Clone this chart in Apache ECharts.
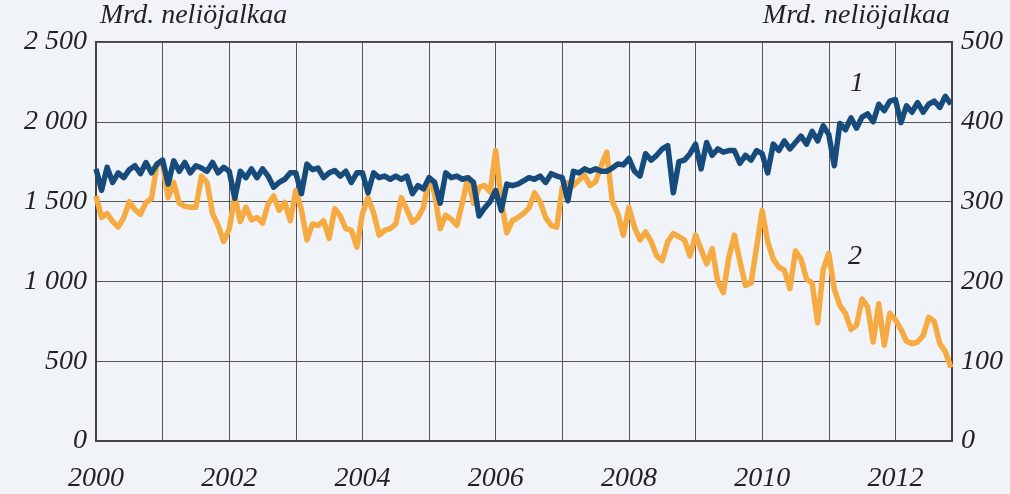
<html lang="fi">
<head>
    <meta charset="UTF-8">
    <title>Mrd. neliöjalkaa</title>
    <script src="https://cdn.jsdelivr.net/npm/echarts@6/dist/echarts.min.js"></script>
    <style>
        html, body { margin: 0; padding: 0; background: #f0f4f9; }
        #main { width: 1010px; height: 494px; }
    </style>
</head>
<body>
<div id="main"></div>
<script>
    // kuukausittaiset arvot, tammikuu 2000 - marraskuu 2012
    var startYear = 2000;
    var tickYears = [2000, 2002, 2004, 2006, 2008, 2010, 2012];

    // 1: vasen asteikko
    var series1 = [
        1705, 1570, 1715, 1620, 1680, 1650, 1700, 1725, 1675, 1745, 1680, 1735,
        1760, 1610, 1755, 1690, 1745, 1680, 1725, 1710, 1690, 1745, 1680, 1715,
        1690, 1520, 1690, 1650, 1705, 1650, 1705, 1660, 1590, 1620, 1640, 1680,
        1680, 1550, 1735, 1700, 1710, 1650, 1680, 1695, 1660, 1690, 1620, 1680,
        1680, 1555, 1680, 1650, 1660, 1640, 1660, 1640, 1660, 1550, 1600, 1580,
        1650, 1620, 1490, 1680, 1650, 1660, 1640, 1650, 1620, 1410, 1460, 1500,
        1570, 1445, 1610, 1600, 1610, 1630, 1650, 1640, 1660, 1620, 1675, 1660,
        1650, 1505, 1690, 1680, 1705, 1690, 1705, 1690, 1690, 1710, 1735, 1730,
        1770, 1690, 1660, 1800, 1760, 1790, 1830, 1850, 1555, 1750, 1760, 1800,
        1860, 1705, 1870, 1790, 1830, 1810, 1820, 1820, 1740, 1790, 1760, 1820,
        1800, 1680, 1860, 1820, 1880, 1830, 1870, 1910, 1860, 1940, 1880, 1975,
        1920, 1725, 1990, 1950, 2025, 1960, 2030, 2050, 2000, 2110, 2070, 2130,
        2140, 1995, 2100, 2060, 2120, 2060, 2110, 2130, 2090, 2160, 2110
    ];

    // 2: oikea asteikko
    var series2 = [
        307, 280, 285, 275, 268, 280, 300, 290, 284, 299, 304, 347,
        347, 305, 324, 298, 294, 293, 293, 332, 324, 285, 270, 250,
        266, 307, 275, 293, 277, 280, 273, 297, 307, 289, 299, 276,
        314, 290, 252, 272, 270, 276, 254, 291, 282, 266, 264, 243,
        285, 305, 286, 258, 264, 266, 272, 305, 290, 274, 280, 293,
        330, 310, 266, 283, 278, 270, 299, 330, 298, 318, 320, 312,
        364, 300, 261, 276, 280, 285, 292, 311, 300, 280, 270, 268,
        318, 324, 320, 327, 333, 320, 325, 345, 362, 300, 285, 258,
        293, 268, 252, 262, 250, 232, 226, 250, 260, 256, 252, 232,
        258, 240, 222, 241, 200, 186, 230, 258, 225, 195, 198, 243,
        289, 250, 228, 218, 214, 191, 238, 228, 203, 198, 148, 215,
        235, 190, 170, 160, 140, 145, 178, 168, 124, 172, 120, 160,
        152, 140, 125, 122, 124, 132, 155, 150, 122, 112, 92
    ];

    function toPoints(values) {
        var pts = [];
        for (var i = 0; i < values.length; i++) {
            pts.push([startYear + i / 12, values[i]]);
        }
        return pts;
    }

    function thousands(v) {
        return String(v).replace(/\B(?=(\d{3})+(?!\d))/g, ' ');
    }

    var labelStyle = {
        color: '#222',
        fontFamily: 'Liberation Serif',
        fontStyle: 'italic',
        fontSize: 28
    };
    var textFont = 'italic 28px "Liberation Serif"';

    var chart = echarts.init(document.getElementById('main'));
    var option = {
        backgroundColor: '#f0f4f9',
        animation: false,
        grid: {
            left: 96, right: 58, top: 42, bottom: 53,
            show: true,
            borderColor: '#444',
            borderWidth: 2,
            backgroundColor: 'transparent'
        },
        graphic: [
            { type: 'text', left: 100, top: 2, style: { text: 'Mrd. neliöjalkaa', fill: '#222', font: textFont } },
            { type: 'text', right: 60, top: 2, style: { text: 'Mrd. neliöjalkaa', fill: '#222', font: textFont } },
            { type: 'text', left: 850, top: 70, style: { text: '1', fill: '#222', font: textFont } },
            { type: 'text', left: 848, top: 243, style: { text: '2', fill: '#222', font: textFont } }
        ],
        xAxis: {
            type: 'value',
            min: 2000,
            max: 2012.85,
            interval: 1,
            axisLine: { show: true, lineStyle: { color: '#444', width: 2 } },
            axisTick: { show: false },
            splitLine: { show: true, lineStyle: { color: '#555', width: 1 } },
            axisLabel: Object.assign({
                margin: 24,
                formatter: function (v) {
                    return tickYears.indexOf(v) >= 0 ? String(v) : '';
                }
            }, labelStyle)
        },
        yAxis: [{
            type: 'value',
            min: 0,
            max: 2500,
            interval: 500,
            axisLine: { show: true, lineStyle: { color: '#444', width: 2 } },
            axisTick: { show: false },
            splitLine: { show: true, lineStyle: { color: '#555', width: 1 } },
            axisLabel: Object.assign({ margin: 9, formatter: thousands }, labelStyle)
        }, {
            type: 'value',
            min: 0,
            max: 500,
            interval: 100,
            position: 'right',
            axisLine: { show: true, lineStyle: { color: '#444', width: 2 } },
            axisTick: { show: false },
            splitLine: { show: false },
            axisLabel: Object.assign({ margin: 9 }, labelStyle)
        }],
        series: [{
            name: '2',
            type: 'line',
            yAxisIndex: 1,
            data: toPoints(series2),
            showSymbol: false,
            lineStyle: { color: '#f6aa42', width: 5.5, join: 'round' },
            z: 3
        }, {
            name: '1',
            type: 'line',
            yAxisIndex: 0,
            data: toPoints(series1),
            showSymbol: false,
            lineStyle: { color: '#174b7c', width: 5.5, join: 'round' },
            z: 4
        }]
    };
    chart.setOption(option);
</script>
</body>
</html>
